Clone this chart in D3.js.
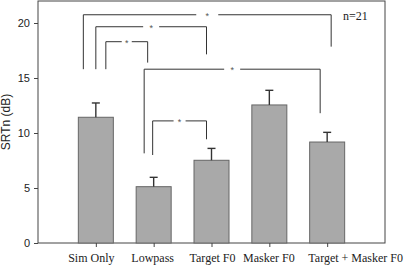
<!DOCTYPE html>
<html>
<head>
<meta charset="utf-8">
<script src="https://cdn.jsdelivr.net/npm/d3@7"></script>
<style>
  html, body { margin: 0; padding: 0; background: #fff; }
  svg { display: block; }
</style>
</head>
<body>
<svg id="chart" width="405" height="265"></svg>
<script>
// ---- data ----
const categories = ["Sim Only", "Lowpass", "Target F0", "Masker F0", "Target + Masker F0"];
const means = [11.43, 5.12, 7.52, 12.55, 9.18];
const errors = [1.3, 0.85, 1.08, 1.33, 0.88];
const yTicks = [0, 5, 10, 15, 20];
const yTickLabels = ["0", "5", "10", "15", "20"];
// significance brackets (category indices and levels in dB)
const bracketFrom = [0, 0, 0, 1, 1];
const bracketTo = [4, 2, 1, 4, 2];
const bracketLevel = [20.75, 19.66, 18.3, 15.8, 11.1];
const bracketLeftEnd = [15.8, 15.8, 15.8, 8.15, 8.0];
const bracketRightEnd = [17.85, 17.15, 16.4, 11.8, 9.43];
const bracketLabel = ["*", "*", "*", "*", "*"];
const sampleLabel = "n=21";
const yTitle = "SRTn (dB)";

// ---- style (pixel offsets) ----
const bracketLeftOffset = [-12.5, 0, 10, -9.5, -1];
const bracketRightOffset = [4, -5, -6, -7, -5];
const bracketGap = [11, 8, 5, 8, 6];
const labelShift = [-5, -1.5, 0.5, -1, 28];

const svg = d3.select("#chart");
const L = 38, R = 385, T = 1, B = 243;

const x = d3.scalePoint()
  .domain(["__left", ...categories, "__right"])
  .range([L, R])
  .padding(0);
const y = d3.scaleLinear().domain([0, 22]).range([B, T]);
const barW = 35;

// frame
svg.append("rect")
  .attr("x", L).attr("y", T).attr("width", R - L).attr("height", B - T)
  .attr("fill", "none").attr("stroke", "#444").attr("stroke-width", 1);

// bars
svg.selectAll("rect.bar").data(categories).enter().append("rect")
  .attr("class", "bar")
  .attr("x", d => x(d) - barW / 2)
  .attr("y", (d, i) => y(means[i]))
  .attr("width", barW)
  .attr("height", (d, i) => y(0) - y(means[i]))
  .attr("fill", "#a9a9a9")
  .attr("stroke", "#666")
  .attr("stroke-width", 1);

// error bars (upward only)
const eg = svg.append("g").attr("stroke", "#333").attr("stroke-width", 1.4);
categories.forEach((c, i) => {
  const cx = x(c);
  eg.append("line").attr("x1", cx).attr("x2", cx)
    .attr("y1", y(means[i])).attr("y2", y(means[i] + errors[i]));
  eg.append("line").attr("x1", cx - 4).attr("x2", cx + 4)
    .attr("y1", y(means[i] + errors[i])).attr("y2", y(means[i] + errors[i]));
});

// y axis
const yAxis = d3.axisLeft(y).tickValues(yTicks)
  .tickFormat((d, i) => yTickLabels[i]).tickSize(4).tickPadding(4);
const yg = svg.append("g").attr("transform", `translate(${L},0)`).call(yAxis);
yg.select(".domain").remove();
yg.selectAll("line").attr("stroke", "#444");
yg.selectAll("text").attr("font-family", "Arial, 'Liberation Sans', sans-serif")
  .attr("font-size", 11).attr("fill", "#222");

// x axis
const xAxis = d3.axisBottom(x).tickValues(categories).tickSize(4).tickPadding(6);
const xg = svg.append("g").attr("transform", `translate(0,${B})`).call(xAxis);
xg.select(".domain").remove();
xg.selectAll("line").attr("stroke", "#444");
xg.selectAll("text")
  .attr("font-family", "'Times New Roman', 'Liberation Serif', serif")
  .attr("font-size", 12).attr("fill", "#222")
  .attr("dx", (d, i) => labelShift[i]);

// y title
svg.append("text")
  .attr("transform", `translate(10,${(T + B) / 2}) rotate(-90)`)
  .attr("text-anchor", "middle")
  .attr("font-family", "Arial, 'Liberation Sans', sans-serif")
  .attr("font-size", 12).attr("fill", "#222")
  .text(yTitle);

// significance brackets
const bg = svg.append("g").attr("stroke", "#333").attr("stroke-width", 1).attr("fill", "none");
bracketFrom.forEach((f, i) => {
  const x1 = x(categories[f]) + bracketLeftOffset[i];
  const x2 = x(categories[bracketTo[i]]) + bracketRightOffset[i];
  const yl = y(bracketLevel[i]);
  const xm = (x1 + x2) / 2;
  const g = bracketGap[i];
  bg.append("path").attr("d",
    `M${x1},${y(bracketLeftEnd[i])}V${yl}H${xm - g}`);
  bg.append("path").attr("d",
    `M${xm + g},${yl}H${x2}V${y(bracketRightEnd[i])}`);
  svg.append("text")
    .attr("x", xm).attr("y", yl + 4)
    .attr("text-anchor", "middle")
    .attr("font-family", "Arial, 'Liberation Sans', sans-serif")
    .attr("font-size", 9).attr("fill", "#555")
    .text(bracketLabel[i]);
});

// sample size
svg.append("text")
  .attr("x", 343).attr("y", 20)
  .attr("font-family", "'Times New Roman', 'Liberation Serif', serif")
  .attr("font-size", 12).attr("fill", "#222")
  .text(sampleLabel);
</script>
</body>
</html>
